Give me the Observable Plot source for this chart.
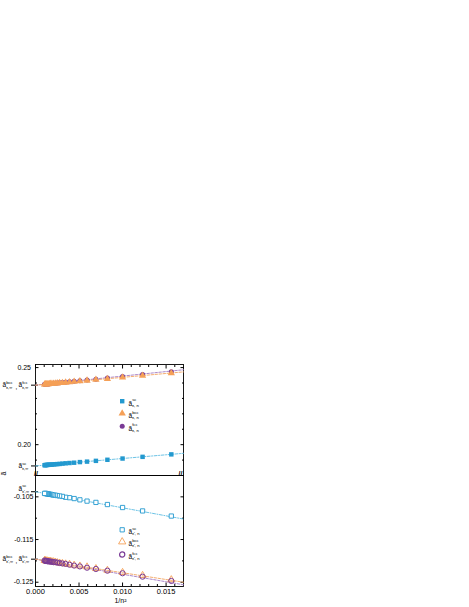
<!DOCTYPE html>
<html><head><meta charset="utf-8">
<script src="https://cdn.jsdelivr.net/npm/d3@7"></script>
<script src="https://cdn.jsdelivr.net/npm/@observablehq/plot@0.6"></script>
<style>
html,body{margin:0;padding:0;background:#fff;}
#chart{width:469px;}
#chart svg{display:block;}
</style></head><body><div id="chart"></div>
<script>
// x = 1/n^2 (n = 8 ... 31)
const xs = [0.0156, 0.0123, 0.0100, 0.00826, 0.00694, 0.00592, 0.00510, 0.00444, 0.00391, 0.00346, 0.00309, 0.00277, 0.00250, 0.00227, 0.00207, 0.00189, 0.00174, 0.00160, 0.00148, 0.00137, 0.00128, 0.00119, 0.00111, 0.00104];
// upper panel series
const scUpper  = [0.1937, 0.1921, 0.1910, 0.1902, 0.1895, 0.1890, 0.1887, 0.1883, 0.1881, 0.1879, 0.1877, 0.1875, 0.1874, 0.1873, 0.1872, 0.1871, 0.1870, 0.1870, 0.1869, 0.1869, 0.1868, 0.1868, 0.1867, 0.1867];
const bccUpper = [0.2464, 0.2448, 0.2436, 0.2427, 0.2421, 0.2416, 0.2412, 0.2408, 0.2406, 0.2403, 0.2401, 0.2400, 0.2398, 0.2397, 0.2396, 0.2395, 0.2395, 0.2394, 0.2393, 0.2393, 0.2392, 0.2392, 0.2392, 0.2391];
const fccUpper = [0.2473, 0.2455, 0.2442, 0.2432, 0.2425, 0.2419, 0.2415, 0.2411, 0.2408, 0.2405, 0.2403, 0.2402, 0.2400, 0.2399, 0.2398, 0.2397, 0.2396, 0.2395, 0.2394, 0.2394, 0.2393, 0.2393, 0.2392, 0.2392];
// lower panel series
const scLower  = [-0.1095, -0.1083, -0.1075, -0.1068, -0.1063, -0.1060, -0.1057, -0.1054, -0.1052, -0.1051, -0.1049, -0.1048, -0.1047, -0.1046, -0.1046, -0.1045, -0.1044, -0.1044, -0.1043, -0.1043, -0.1043, -0.1042, -0.1042, -0.1042];
const bccLower = [-0.1244, -0.1234, -0.1227, -0.1222, -0.1218, -0.1214, -0.1212, -0.1210, -0.1208, -0.1207, -0.1206, -0.1205, -0.1204, -0.1203, -0.1202, -0.1202, -0.1201, -0.1201, -0.1201, -0.1200, -0.1200, -0.1200, -0.1199, -0.1199];
const fccLower = [-0.1247, -0.1237, -0.1229, -0.1223, -0.1219, -0.1216, -0.1213, -0.1211, -0.1209, -0.1207, -0.1206, -0.1205, -0.1204, -0.1203, -0.1203, -0.1202, -0.1202, -0.1201, -0.1201, -0.1201, -0.1200, -0.1200, -0.1200, -0.1199];
// fitted (extrapolation) lines
const fitX = [0, 0.017];
const fitScUpper  = [0.1862, 0.1944];
const fitBccUpper = [0.2386, 0.2472];
const fitFccUpper = [0.2386, 0.2486];
const fitScLower  = [-0.1038, -0.1102];
const fitBccLower = [-0.1196, -0.1250];
const fitFccLower = [-0.1196, -0.1256];
// ticks
const xMajor = [0.000, 0.005, 0.010, 0.015];
const xMinor = [0.001, 0.002, 0.003, 0.004, 0.006, 0.007, 0.008, 0.009, 0.011, 0.012, 0.013, 0.014, 0.016];
const yUpperMajor = [0.20, 0.25];
const yUpperMinor = [0.18, 0.19, 0.21, 0.22, 0.23, 0.24];
const yLowerMajor = [-0.105, -0.115, -0.125];
const yLowerMinor = [-0.110, -0.120];

const FONT = "Liberation Sans, Arial, Helvetica, sans-serif";
const C = {sc: "#2399cf", bcc: "#f5a057", fcc: "#7a3a96"};
const L = {sc: "#5cbce2", bcc: "#f3a562", fcc: "#a27ac4"};

function term(anchor, dx, dy, sup, sub) {
  return [
    Plot.text([0], {...anchor, text: () => "ã", dx, dy, fontSize: 6.5, textAnchor: "start"}),
    Plot.text([0], {...anchor, text: () => sup, dx: dx + 3.7, dy: dy - 2.8, fontSize: 4.2, textAnchor: "start"}),
    Plot.text([0], {...anchor, text: () => sub, dx: dx + 3.7, dy: dy + 2.6, fontSize: 4.2, textAnchor: "start"})
  ];
}
function atY(v) { return {y: () => v, frameAnchor: "left"}; }
const TL = {frameAnchor: "top-left"};

function axesY(major, minor, fmt, padding) {
  return [
    Plot.axisY({anchor: "left", ticks: minor, tickSize: -2, tickFormat: () => "", label: null}),
    Plot.axisY({anchor: "right", ticks: minor, tickSize: -2, tickFormat: () => "", label: null}),
    Plot.axisY({anchor: "right", ticks: major, tickSize: -3.5, tickFormat: () => "", label: null}),
    Plot.axisY({anchor: "left", ticks: major, tickSize: -3.5, tickFormat: () => "", label: null}),
    Plot.axisY({anchor: "left", ticks: major, tickSize: 0, tickPadding: padding, tickFormat: fmt, fontSize: 7, label: null})
  ];
}
function interceptTicks(vals) {
  return [
    Plot.axisY({anchor: "left", ticks: vals, tickSize: 4, tickFormat: () => "", label: null}),
    Plot.axisY({anchor: "left", ticks: vals, tickSize: -3, tickFormat: () => "", label: null})
  ];
}
const pick = arr => (d, i) => arr[i];

const upper = Plot.plot({
  width: 469, height: 475,
  marginTop: 364, marginBottom: 0, marginLeft: 35, marginRight: 286,
  style: {fontFamily: FONT, background: "white", color: "black", overflow: "visible"},
  x: {domain: [0, 0.017]},
  y: {domain: [0.18, 0.252]},
  marks: [
    Plot.frame({stroke: "black", strokeWidth: 0.9}),
    Plot.axisX({anchor: "top", ticks: xMinor, tickSize: -2, tickFormat: () => "", label: null}),
    Plot.axisX({anchor: "top", ticks: xMajor, tickSize: -3.5, tickFormat: () => "", label: null}),
    ...axesY(yUpperMajor, yUpperMinor, d => d.toFixed(2), 4.5),
    ...interceptTicks([fitBccUpper[0], fitScUpper[0]]),
    Plot.line(fitX, {x: d => d, y: pick(fitScUpper), stroke: L.sc, strokeWidth: 0.9, strokeDasharray: "3,1.5,1,1.5"}),
    Plot.line(fitX, {x: d => d, y: pick(fitFccUpper), stroke: L.fcc, strokeWidth: 0.9, strokeDasharray: "2.5,1.5"}),
    Plot.line(fitX, {x: d => d, y: pick(fitBccUpper), stroke: L.bcc, strokeWidth: 0.9, strokeDasharray: "2.5,1.5"}),
    Plot.dot(xs, {x: d => d, y: pick(scUpper), symbol: "square", r: 2.5, fill: C.sc}),
    Plot.dot(xs, {x: d => d, y: pick(fccUpper), symbol: "circle", r: 2.5, fill: C.fcc}),
    Plot.dot(xs, {x: d => d, y: pick(bccUpper), symbol: "triangle", r: 2.7, fill: C.bcc}),
    // legend
    Plot.dot([0], {...TL, dx: 86.7, dy: 36.7, symbol: "square", r: 2.5, fill: C.sc}),
    Plot.dot([0], {...TL, dx: 86.7, dy: 49, symbol: "triangle", r: 2.7, fill: C.bcc}),
    Plot.dot([0], {...TL, dx: 86.7, dy: 61.7, symbol: "circle", r: 2.5, fill: C.fcc}),
    ...term(TL, 93, 36.7, "sc", "ε, n"),
    ...term(TL, 93, 49, "bcc", "ε, n"),
    ...term(TL, 93, 61.7, "fcc", "ε, n"),
    // axis annotations at the intercepts
    ...term(atY(fitBccUpper[0]), -33, 0, "bcc", "ε,∞"),
    Plot.text([0], {...atY(fitBccUpper[0]), dx: -20, dy: 2, text: () => ",", fontSize: 6.5, textAnchor: "start"}),
    ...term(atY(fitBccUpper[0]), -17, 0, "fcc", "ε,∞"),
    ...term(atY(fitScUpper[0]), -17, 0, "sc", "ε,∞"),
    // axis title and break marks
    Plot.text([0], {frameAnchor: "bottom-left", dx: -30, dy: 0, rotate: -90, text: () => "ã", fontSize: 7}),
    Plot.text([0], {frameAnchor: "bottom-left", dx: -1.5, text: () => "//", fontSize: 7, fontWeight: "bold"}),
    Plot.text([0], {frameAnchor: "bottom-right", dx: -1, text: () => "//", fontSize: 7, fontWeight: "bold"})
  ]
});

const lower = Plot.plot({
  width: 469, height: 132,
  marginTop: 0, marginBottom: 21, marginLeft: 35, marginRight: 286,
  style: {fontFamily: FONT, background: "white", color: "black", overflow: "visible"},
  x: {domain: [0, 0.017]},
  y: {domain: [-0.126, -0.100]},
  marks: [
    Plot.frame({stroke: "black", strokeWidth: 0.9}),
    Plot.axisX({anchor: "bottom", ticks: xMinor, tickSize: -2, tickFormat: () => "", label: null}),
    Plot.axisX({anchor: "bottom", ticks: xMajor, tickSize: -3.5, tickFormat: () => "", label: null}),
    Plot.axisX({anchor: "bottom", ticks: xMajor, tickSize: 0, tickPadding: 2.5, tickFormat: d => d.toFixed(3), fontSize: 7.5, label: null}),
    ...axesY(yLowerMajor, yLowerMinor, d => d.toFixed(3), 2),
    ...interceptTicks([fitScLower[0], fitBccLower[0]]),
    Plot.line(fitX, {x: d => d, y: pick(fitScLower), stroke: L.sc, strokeWidth: 0.9, strokeDasharray: "3,1.5,1,1.5"}),
    Plot.line(fitX, {x: d => d, y: pick(fitFccLower), stroke: L.fcc, strokeWidth: 0.9, strokeDasharray: "2.5,1.5"}),
    Plot.line(fitX, {x: d => d, y: pick(fitBccLower), stroke: L.bcc, strokeWidth: 0.9, strokeDasharray: "2.5,1.5"}),
    Plot.dot(xs, {x: d => d, y: pick(scLower), symbol: "square", r: 2.4, stroke: C.sc, strokeWidth: 0.9, fill: "white"}),
    Plot.dot(xs, {x: d => d, y: pick(bccLower), symbol: "triangle", r: 2.6, stroke: C.bcc, strokeWidth: 0.9, fill: "none"}),
    Plot.dot(xs, {x: d => d, y: pick(fccLower), symbol: "circle", r: 2.6, stroke: C.fcc, strokeWidth: 1, fill: "none"}),
    // legend
    Plot.dot([0], {...TL, dx: 86.7, dy: 54.3, symbol: "square", r: 2.4, stroke: C.sc, strokeWidth: 0.9, fill: "none"}),
    Plot.dot([0], {...TL, dx: 86.7, dy: 66.3, symbol: "triangle", r: 2.7, stroke: C.bcc, strokeWidth: 0.9, fill: "none"}),
    Plot.dot([0], {...TL, dx: 86.7, dy: 79, symbol: "circle", r: 2.6, stroke: C.fcc, strokeWidth: 1.2, fill: "none"}),
    ...term(TL, 93, 54.3, "sc", "ε′, n"),
    ...term(TL, 93, 66.3, "bcc", "ε′, n"),
    ...term(TL, 93, 79, "fcc", "ε′, n"),
    // axis annotations
    ...term(atY(fitScLower[0]), -17, -3, "sc", "ε′,∞"),
    ...term(atY(fitBccLower[0]), -33, 0, "bcc", "ε′,∞"),
    Plot.text([0], {...atY(fitBccLower[0]), dx: -20, dy: 2, text: () => ",", fontSize: 6.5, textAnchor: "start"}),
    ...term(atY(fitBccLower[0]), -17, 0, "fcc", "ε′,∞"),
    // x title
    Plot.text([0], {frameAnchor: "bottom", dx: 11, dy: 16.5, text: () => "1/n²", fontSize: 7})
  ]
});

document.getElementById("chart").append(upper, lower);
</script>
</body></html>
